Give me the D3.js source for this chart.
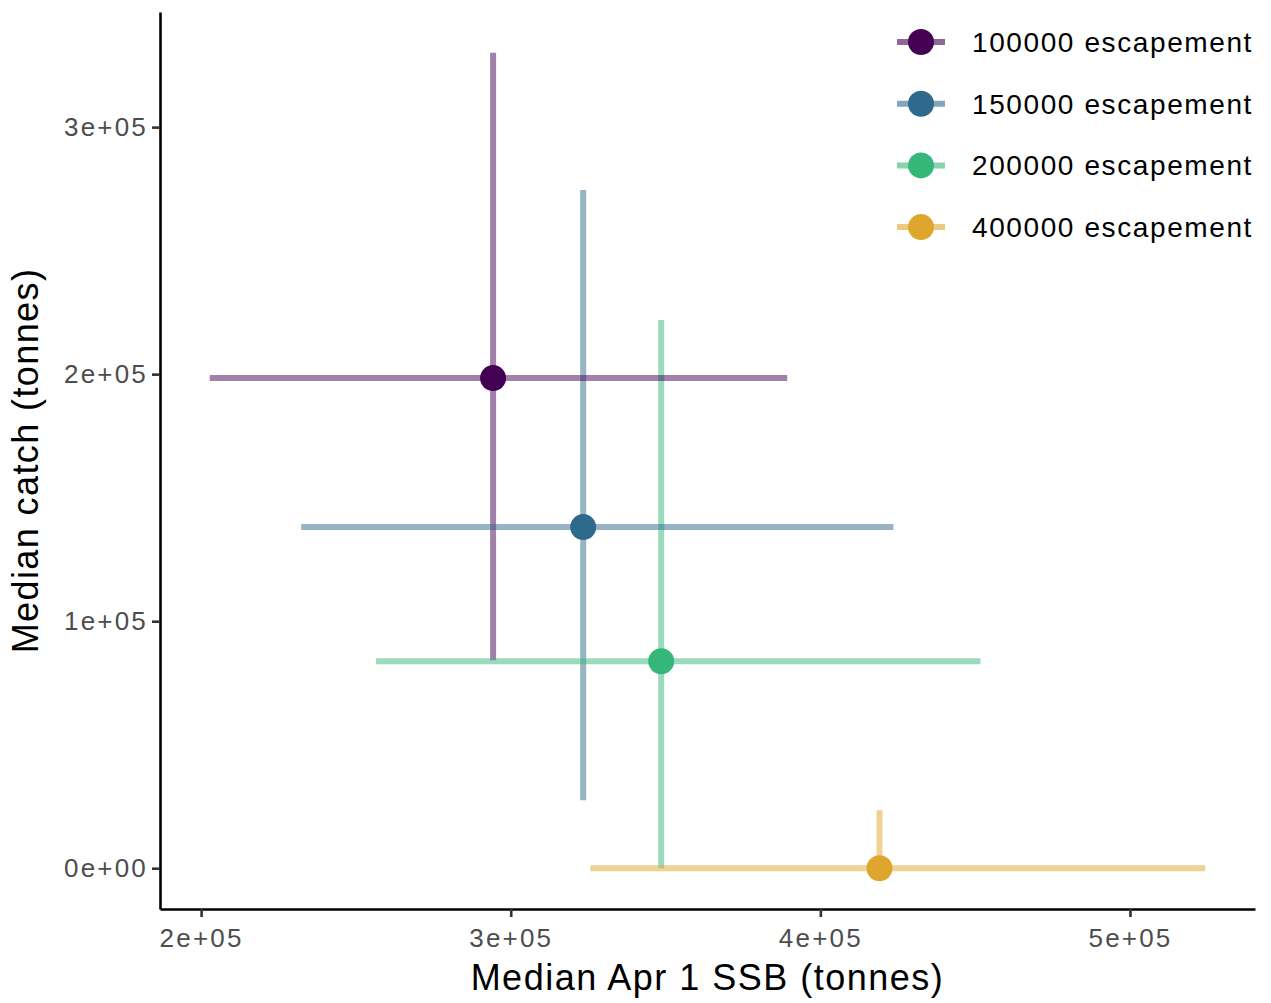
<!DOCTYPE html>
<html>
<head>
<meta charset="utf-8">
<script src="https://cdn.jsdelivr.net/npm/d3@7"></script>
<style>
  body { margin: 0; background: #fff; }
  text { font-family: "Liberation Sans", Arial, sans-serif; }
</style>
</head>
<body>
<script>
const width = 1271
const height = 1003
const margin = ({top: 12, right: 16, bottom: 94, left: 160});

// escapement scenarios
const groups = ["100000 escapement", "150000 escapement", "200000 escapement", "400000 escapement"];
const colors = ["#440154", "#2F6A8D", "#35B779", "#DFA62E"];

// median SSB and its interval
const ssb    = [294300, 323400, 348600, 419100];
const ssbLo  = [202800, 232300, 256500, 325700];
const ssbHi  = [389300, 423600, 451700, 524300];
// median catch and its interval
const catchMed = [198400, 138100, 83800, 0];
const catchLo  = [84200, 27500, 0, 0];
const catchHi  = [330100, 274500, 221900, 23500];

const xTicks = [200000, 300000, 400000, 500000];
const yTicks = [0, 100000, 200000, 300000];

const data = groups.map((g, i) => ({
    group: g, color: colors[i],
    x: ssb[i], xlo: ssbLo[i], xhi: ssbHi[i],
    y: catchMed[i], ylo: catchLo[i], yhi: catchHi[i]
}));

// ggplot style 5% expansion
const expand = ([a, b]) => [a - (b - a) * 0.05, b + (b - a) * 0.05];

const x = d3.scaleLinear()
    .domain(expand([d3.min(ssbLo), d3.max(ssbHi)]))
    .range([margin.left, width - margin.right])

const y = d3.scaleLinear()
    .domain(expand([d3.min(catchLo), d3.max(catchHi)]))
    .range([height - margin.bottom, margin.top])

// 3e+05 style labels
const sci = v => {
    if (v === 0) return "0e+00";
    const e = Math.floor(Math.log10(Math.abs(v)));
    const m = Math.round(v / Math.pow(10, e));
    return `${m}e${e < 0 ? "-" : "+"}${String(Math.abs(e)).padStart(2, "0")}`;
}

const svg = d3.select("body").append("svg")
    .attr("width", width)
    .attr("height", height);

const styleAxis = g => {
    g.select(".domain").attr("stroke", "#000").attr("stroke-width", 2.6);
    g.selectAll(".tick line").attr("stroke", "#333").attr("stroke-width", 2.6);
    g.selectAll(".tick text")
        .attr("fill", "#4D4D4D")
        .attr("font-size", 26)
        .attr("letter-spacing", 2.2);
}

svg.append("g")
    .attr("transform", `translate(0,${height - margin.bottom})`)
    .call(d3.axisBottom(x).tickValues(xTicks).tickFormat(sci).tickSize(8).tickSizeOuter(0).tickPadding(12))
    .call(styleAxis);

svg.append("g")
    .attr("transform", `translate(${margin.left},0)`)
    .call(d3.axisLeft(y).tickValues(yTicks).tickFormat(sci).tickSize(8).tickSizeOuter(0).tickPadding(4))
    .call(styleAxis);

const plot = svg.append("g");

// vertical intervals
plot.selectAll("line.v")
    .data(data)
    .join("line")
    .attr("class", "v")
    .attr("x1", d => x(d.x)).attr("x2", d => x(d.x))
    .attr("y1", d => y(d.ylo)).attr("y2", d => y(d.yhi))
    .attr("stroke", d => d.color)
    .attr("stroke-opacity", 0.5)
    .attr("stroke-width", 6);

// horizontal intervals
plot.selectAll("line.h")
    .data(data)
    .join("line")
    .attr("class", "h")
    .attr("x1", d => x(d.xlo)).attr("x2", d => x(d.xhi))
    .attr("y1", d => y(d.y)).attr("y2", d => y(d.y))
    .attr("stroke", d => d.color)
    .attr("stroke-opacity", 0.5)
    .attr("stroke-width", 6);

plot.selectAll("circle")
    .data(data)
    .join("circle")
    .attr("cx", d => x(d.x))
    .attr("cy", d => y(d.y))
    .attr("r", 13)
    .attr("fill", d => d.color);

// axis titles
svg.append("text")
    .attr("x", (margin.left + width - margin.right) / 2)
    .attr("y", 990)
    .attr("text-anchor", "middle")
    .attr("font-size", 36)
    .attr("letter-spacing", 1.5)
    .text("Median Apr 1 SSB (tonnes)");

svg.append("text")
    .attr("transform", `translate(38,${(margin.top + height - margin.bottom) / 2}) rotate(-90)`)
    .attr("text-anchor", "middle")
    .attr("font-size", 36)
    .attr("letter-spacing", 1.4)
    .text("Median catch (tonnes)");

// legend
const legend = svg.append("g")
    .selectAll("g")
    .data(data)
    .join("g")
    .attr("transform", (d, i) => `translate(921,${42 + i * 61.7})`);

legend.append("line")
    .attr("x1", -24).attr("x2", 24)
    .attr("stroke", d => d.color)
    .attr("stroke-opacity", 0.6)
    .attr("stroke-width", 6);

legend.append("circle")
    .attr("r", 13)
    .attr("fill", d => d.color);

legend.append("text")
    .attr("x", 51)
    .attr("dy", "0.35em")
    .attr("font-size", 28)
    .attr("letter-spacing", 1.6)
    .attr("fill", "#000")
    .text(d => d.group);
</script>
</body>
</html>
